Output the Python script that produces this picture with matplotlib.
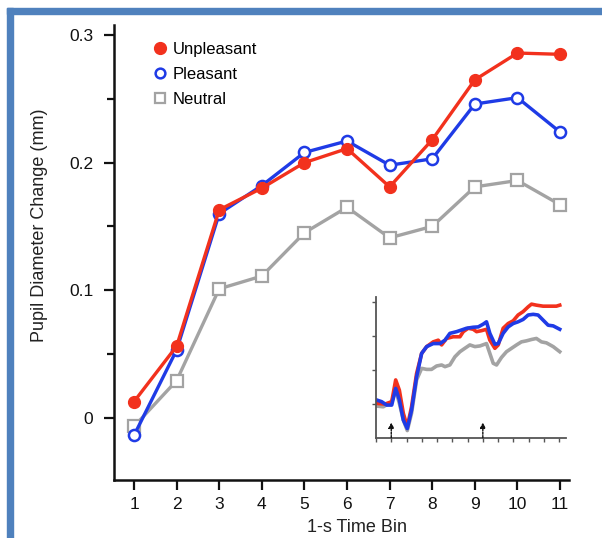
import matplotlib
matplotlib.use("Agg")
import matplotlib.pyplot as plt
from matplotlib.lines import Line2D
from matplotlib.patches import Rectangle

plt.rcParams["font.family"] = ["Liberation Sans", "DejaVu Sans"]

# main panel: mean pupil change per 1-s bin
time_bin = [1, 2, 3, 4, 5, 6, 7, 8, 9, 10, 11]
unpleasant = [0.0125, 0.056, 0.163, 0.180, 0.200, 0.211, 0.181, 0.218, 0.265, 0.286, 0.285]
pleasant = [-0.014, 0.053, 0.160, 0.182, 0.208, 0.217, 0.198, 0.203, 0.246, 0.251, 0.224]
neutral = [-0.007, 0.029, 0.101, 0.111, 0.145, 0.165, 0.141, 0.150, 0.181, 0.186, 0.167]

# inset: continuous traces (arbitrary units)
ins_x_red = [0.04, 0.59, 1.03, 1.29, 1.53, 1.79, 2.05, 2.33, 2.66, 2.99, 3.32, 3.75, 4.08, 4.30,
             4.62, 5.06, 5.50, 5.72, 6.04, 6.37, 6.59, 6.92, 7.24, 7.46, 7.79, 8.01, 8.33, 8.66,
             8.99, 9.31, 9.64, 9.97, 10.19, 10.51, 10.95, 11.39, 11.82, 12.04]
ins_red = [1.01, 0.99, 1.06, 1.70, 1.40, 0.72, 0.32, 0.91, 1.89, 2.48, 2.68, 2.82, 2.87, 2.73,
           2.92, 2.97, 2.97, 3.12, 3.22, 3.19, 3.12, 3.15, 3.19, 2.87, 2.63, 2.73, 3.22, 3.36,
           3.44, 3.61, 3.71, 3.85, 3.93, 3.90, 3.87, 3.87, 3.87, 3.90]
ins_x_blue = [0.04, 0.37, 0.70, 1.03, 1.29, 1.53, 1.79, 2.05, 2.33, 2.66, 2.99, 3.32, 3.75, 4.19,
              4.52, 4.84, 5.28, 5.61, 5.93, 6.37, 6.70, 7.02, 7.24, 7.46, 7.79, 8.01, 8.33, 8.66,
              8.99, 9.31, 9.64, 9.97, 10.30, 10.62, 10.95, 11.28, 11.61, 12.04]
ins_blue = [1.11, 1.06, 0.96, 0.96, 1.45, 1.11, 0.52, 0.27, 0.81, 1.79, 2.48, 2.68, 2.77, 2.77,
            2.87, 3.07, 3.12, 3.17, 3.22, 3.25, 3.26, 3.34, 3.41, 3.07, 2.75, 2.77, 3.07, 3.26,
            3.36, 3.41, 3.48, 3.61, 3.63, 3.61, 3.46, 3.31, 3.29, 3.19]
ins_x_gray = [0.04, 0.48, 1.03, 1.29, 1.53, 1.79, 2.05, 2.33, 2.66, 2.99, 3.32, 3.64, 3.97, 4.30,
              4.52, 4.84, 5.17, 5.50, 5.82, 6.15, 6.48, 6.81, 7.24, 7.46, 7.68, 7.90, 8.22, 8.55,
              8.88, 9.21, 9.53, 9.86, 10.19, 10.51, 10.84, 11.17, 11.61, 12.04]
ins_gray = [0.93, 0.91, 1.06, 1.40, 1.01, 0.52, 0.21, 0.72, 1.70, 2.04, 2.01, 2.01, 2.11, 2.14,
            2.09, 2.14, 2.38, 2.53, 2.63, 2.73, 2.68, 2.70, 2.77, 2.48, 2.19, 2.14, 2.36, 2.53,
            2.63, 2.73, 2.82, 2.85, 2.89, 2.92, 2.82, 2.79, 2.68, 2.53]
ins_arrows = [1, 7]

red = "#f2311d"
blue = "#1f3be6"
gray = "#a3a3a3"

fig = plt.figure(figsize=(6.02, 5.38), dpi=100)

# blue frame on left and top
W, H = 602, 538
fig.patches.append(Rectangle((7 / W, 0), 6 / W, (H - 8) / H, transform=fig.transFigure,
                             color="#4f81bd", zorder=0))
fig.patches.append(Rectangle((7 / W, (H - 14) / H), (W - 7) / W, 6 / H, transform=fig.transFigure,
                             color="#4f81bd", zorder=0))

ax = fig.add_axes([114 / W, 1 - 480 / H, 455 / W, 455 / H])
ax.plot(time_bin, neutral, color=gray, lw=2.4, marker="s", ms=8, mfc="white", mec=gray, mew=1.6)
ax.plot(time_bin, pleasant, color=blue, lw=2.4, marker="o", ms=8, mfc="white", mec=blue, mew=1.8)
ax.plot(time_bin, unpleasant, color=red, lw=2.4, marker="o", ms=8.5, mfc=red, mec=red)

ax.set_xlim(0.53, 11.21)
ax.set_ylim(-0.049, 0.308)
ax.set_xticks(time_bin)
ax.set_yticks([0, 0.1, 0.2, 0.3])
ax.set_yticklabels(["0", "0.1", "0.2", "0.3"])
ax.set_yticks([0.05, 0.15, 0.25], minor=True)
for s in ["top", "right"]:
    ax.spines[s].set_visible(False)
for s in ["left", "bottom"]:
    ax.spines[s].set_linewidth(1.8)
    ax.spines[s].set_color("#111111")
ax.tick_params(axis="both", which="major", length=7, width=1.6, labelsize=12.5, colors="#111111")
ax.tick_params(axis="y", which="minor", length=5, width=1.6, colors="#111111")
ax.tick_params(axis="y", pad=8)
ax.tick_params(axis="x", pad=5)
ax.set_xlabel("1-s Time Bin", fontsize=13, color="#222222")
ax.set_ylabel("Pupil Diameter Change (mm)", fontsize=13, color="#222222")
ax.yaxis.set_label_coords(-0.145, 0.56)
ax.xaxis.set_label_coords(0.534, -0.085)

handles = [
    Line2D([], [], ls="none", marker="o", ms=8.5, mfc=red, mec=red),
    Line2D([], [], ls="none", marker="o", ms=7, mfc="white", mec=blue, mew=1.8),
    Line2D([], [], ls="none", marker="s", ms=7.5, mfc="white", mec=gray, mew=1.6),
]
ax.legend(handles, ["Unpleasant", "Pleasant", "Neutral"], loc="upper left",
          bbox_to_anchor=(0.086, 0.962), frameon=False, fontsize=12, handlelength=0.8,
          handletextpad=0.36, borderpad=0, borderaxespad=0, labelspacing=0.6)

# inset
ins = fig.add_axes([376 / W, 1 - 437.7 / H, 190 / W, 140.7 / H])
ins.plot(ins_x_gray, ins_gray, color=gray, lw=2.6)
ins.plot(ins_x_red, ins_red, color=red, lw=2.6)
ins.plot(ins_x_blue, ins_blue, color=blue, lw=2.6)
ins.set_xlim(0, 12.45)
ins.set_ylim(0, 4.14)
ins.set_xticks(range(0, 13))
ins.set_yticks([1, 2, 3, 4])
ins.set_xticklabels([])
ins.set_yticklabels([])
for s in ["top", "right"]:
    ins.spines[s].set_visible(False)
for s in ["left", "bottom"]:
    ins.spines[s].set_linewidth(1.3)
    ins.spines[s].set_color("#555555")
ins.tick_params(length=3, width=1, colors="#555555")
ins.patch.set_alpha(0)
for a in ins_arrows:
    ins.annotate("", xy=(a, 0.45), xytext=(a, 0),
                 arrowprops=dict(arrowstyle="-|>", color="#111111", lw=1, ls=(0, (1.5, 1)),
                                 mutation_scale=8, shrinkA=0, shrinkB=0))

fig.savefig("out.png", dpi=100)
